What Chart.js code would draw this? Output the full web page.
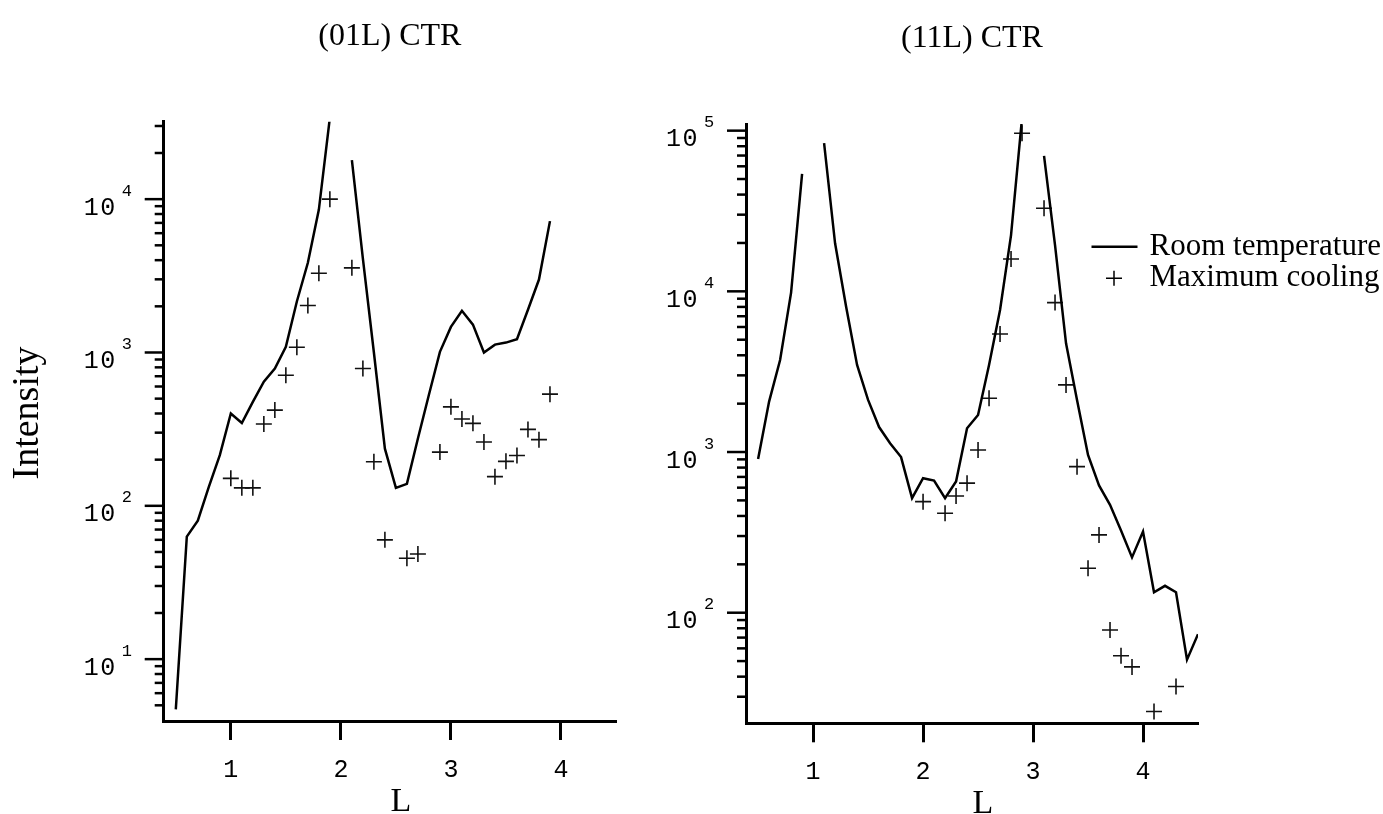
<!DOCTYPE html>
<html>
<head>
<meta charset="utf-8">
<script src="https://cdn.jsdelivr.net/npm/chart.js@4.4.1/dist/chart.umd.min.js"></script>
<style>
    body { margin: 0; background: #fff; }
    canvas { position: absolute; top: 0; }
    #chartLeft { left: 0; }
    #chartRight { left: 640px; }
</style>
</head>
<body>
<canvas id="chartLeft" width="640" height="814"></canvas>
<canvas id="chartRight" width="743" height="814"></canvas>
<script>
'use strict'

// data (L in r.l.u., intensity in counts)
const lLeft = [0.5, 0.6, 0.7, 0.8, 0.9, 1.0, 1.1, 1.2, 1.3, 1.4, 1.5, 1.6, 1.7, 1.8, 1.9, 2.0, 2.1, 2.2,
    2.3, 2.4, 2.5, 2.6, 2.7, 2.8, 2.9, 3.0, 3.1, 3.2, 3.3, 3.4, 3.5, 3.6, 3.7, 3.8, 3.9];
const roomLeft = [4.7, 63, 80, 133, 214, 400, 347, 476, 645, 786, 1088, 2150, 3850, 8550, 34000, null, 18000, 4100,
    1000, 236, 131, 139, 275, 530, 1010, 1469, 1870, 1520, 1000, 1125, 1160, 1220, 1900, 2990, 7190];
const coolLeft = [null, null, null, null, null, 151, 131, 131, 342, 421, 711, 1083, 2025, 3290, 10000, null, 3565, 786,
    194, 60, null, 45.5, 48.5, null, 224, 442, 368, 345, 261, 155, 195, 213, 315, 270, 535];

const lRight = [0.5, 0.6, 0.7, 0.8, 0.9, 1.0, 1.1, 1.2, 1.3, 1.4, 1.5, 1.6, 1.7, 1.8, 1.9, 2.0, 2.1, 2.2, 2.3, 2.4,
    2.5, 2.6, 2.7, 2.8, 2.9, 3.0, 3.1, 3.2, 3.3, 3.4, 3.5, 3.6, 3.7, 3.8, 3.9, 4.0, 4.1, 4.2, 4.3, 4.4, 4.5];
const roomRight = [906, 2060, 3740, 9820, 53800, null, 83500, 19900, 8040, 3480, 2110, 1430, 1135, 930, 516, 687, 664, 516, 655, 1406,
    1700, 3480, 7660, 22400, 120000, null, 69600, 19400, 4750, 2110, 960, 620, 469, 325, 221, 320, 134, 147, 134, 51, 73.5];
const coolRight = [null, null, null, null, null, null, null, null, null, null, null, null, null, null, null, 491, null, 416, 533, 640,
    1030, 2160, 5430, 15900, 96300, null, 32900, 8510, 2616, 811, 189, 305, 78, 54, 46, null, 24.3, null, 34.7, null, null];

const xTicks = [1, 2, 3, 4];
const seriesNames = ["Room temperature", "Maximum cooling"];

const serif = "'Liberation Serif', 'Times New Roman', serif";
const mono = "'Liberation Mono', 'DejaVu Sans Mono', monospace";

// helper: log tick values 1..9 x 10^k inside the axis range
function logTickValues(min, max) {
    let values = [];
    for (let e = Math.floor(Math.log10(min)); e <= Math.ceil(Math.log10(max)); e++) {
        for (let m = 1; m <= 9; m++) {
            const v = m * Math.pow(10, e);
            if (v >= min && v <= max) values.push(v);
        }
    }
    return values;
}

// draws y tick marks with 10^n labels, the titles and the legend
const decorPlugin = {
    id: 'decor',
    afterDraw(chart, args, opts) {
        const ctx = chart.ctx;
        const area = chart.chartArea;
        const yScale = chart.scales.y;
        ctx.save();
        ctx.strokeStyle = '#000';
        ctx.fillStyle = '#000';
        ctx.lineWidth = 2.5;

        logTickValues(yScale.min, yScale.max).forEach(v => {
            const py = yScale.getPixelForValue(v);
            if (py > area.bottom - 3) return;
            const exp = Math.log10(v);
            const major = Math.abs(exp - Math.round(exp)) < 1e-9;
            const len = major ? 19 : 9;
            ctx.beginPath();
            ctx.moveTo(area.left - len, py);
            ctx.lineTo(area.left, py);
            ctx.stroke();
            if (major) {
                ctx.textBaseline = 'middle';
                ctx.textAlign = 'left';
                ctx.font = '25px ' + mono;
                ctx.letterSpacing = '1.5px';
                ctx.fillText('10', area.left - 80, py + 9);
                ctx.font = '17px ' + mono;
                ctx.letterSpacing = '0px';
                ctx.fillText(String(Math.round(exp)), area.left - 42, py - 8);
            }
        });

        const midX = (area.left + area.right) / 2;
        ctx.textAlign = 'center';
        ctx.textBaseline = 'middle';
        ctx.font = '32px ' + serif;
        ctx.fillText(opts.title, midX, opts.titleY);

        ctx.textBaseline = 'alphabetic';
        ctx.font = '34px ' + serif;
        ctx.fillText('L', midX + 11, opts.xTitleY);

        if (opts.yTitle) {
            ctx.save();
            ctx.translate(opts.yTitleX, opts.yTitleY);
            ctx.rotate(-Math.PI / 2);
            ctx.textBaseline = 'middle';
            ctx.font = '38px ' + serif;
            ctx.fillText(opts.yTitle, 0, 0);
            ctx.restore();
        }

        if (opts.legend) {
            const lg = opts.legend;
            ctx.lineWidth = 2.5;
            ctx.beginPath();
            ctx.moveTo(lg.x, lg.y1);
            ctx.lineTo(lg.x + 46, lg.y1);
            ctx.stroke();
            ctx.lineWidth = 1.5;
            const cx = lg.x + 22.5;
            ctx.beginPath();
            ctx.moveTo(cx - 8, lg.y2);
            ctx.lineTo(cx + 8, lg.y2);
            ctx.moveTo(cx, lg.y2 - 7.5);
            ctx.lineTo(cx, lg.y2 + 7.5);
            ctx.stroke();
            ctx.textAlign = 'left';
            ctx.textBaseline = 'middle';
            ctx.font = '31px ' + serif;
            ctx.fillText(seriesNames[0], lg.x + 58, lg.y1);
            ctx.fillText(seriesNames[1], lg.x + 58, lg.y2);
        }
        ctx.restore();
    }
};

function makeChart(canvasId, lValues, room, cool, cfg) {
    const roomPoints = lValues.map((l, i) => ({ x: l, y: room[i] }));
    const coolPoints = lValues.map((l, i) => ({ x: l, y: cool[i] }));

    return new Chart(document.getElementById(canvasId), {
        type: 'line',
        data: {
            datasets: [
                {
                    label: seriesNames[0],
                    data: roomPoints,
                    borderColor: '#000',
                    borderWidth: 2.5,
                    pointRadius: 0,
                    tension: 0,
                    spanGaps: false
                },
                {
                    label: seriesNames[1],
                    data: coolPoints,
                    showLine: false,
                    pointStyle: 'cross',
                    pointRadius: 8,
                    pointBorderWidth: 1.6,
                    borderColor: '#111',
                    backgroundColor: '#111'
                }
            ]
        },
        options: {
            responsive: false,
            animation: false,
            devicePixelRatio: 1,
            layout: { padding: { left: 0, right: cfg.padRight, top: cfg.padTop, bottom: 0 } },
            plugins: {
                legend: { display: false },
                title: { display: false },
                tooltip: { enabled: false },
                decor: cfg.decor
            },
            scales: {
                x: {
                    type: 'linear',
                    min: 0.39,
                    max: 4.5,
                    afterBuildTicks: (scale) => { scale.ticks = xTicks.map(v => ({ value: v })); },
                    afterFit: (scale) => { scale.height = cfg.xHeight; },
                    ticks: {
                        color: '#000',
                        padding: 15,
                        font: { family: mono, size: 25 }
                    },
                    grid: {
                        display: true,
                        drawOnChartArea: false,
                        drawTicks: true,
                        tickLength: 19,
                        tickWidth: 3,
                        tickColor: '#000'
                    },
                    border: { display: true, color: '#000', width: 3 }
                },
                y: {
                    type: 'logarithmic',
                    min: cfg.yMin,
                    max: cfg.yMax,
                    afterFit: (scale) => { scale.width = cfg.yWidth; },
                    ticks: { display: false },
                    grid: { display: false },
                    border: { display: true, color: '#000', width: 3 }
                }
            }
        },
        plugins: [decorPlugin]
    });
}

makeChart('chartLeft', lLeft, roomLeft, coolLeft, {
    padRight: 24,
    padTop: 121.7,
    xHeight: 93,
    yWidth: 163.7,
    yMin: 3.95,
    yMax: 32000,
    decor: { title: '(01L) CTR', titleY: 37, xTitleY: 811, yTitle: 'Intensity', yTitleX: 28, yTitleY: 413 }
});

makeChart('chartRight', lRight, roomRight, coolRight, {
    padRight: 185,
    padTop: 124,
    xHeight: 90.7,
    yWidth: 106,
    yMin: 20.5,
    yMax: 110000,
    decor: { title: '(11L) CTR', titleY: 39, xTitleY: 813, legend: { x: 451.5, y1: 246.7, y2: 278.3 } }
});
</script>
</body>
</html>
